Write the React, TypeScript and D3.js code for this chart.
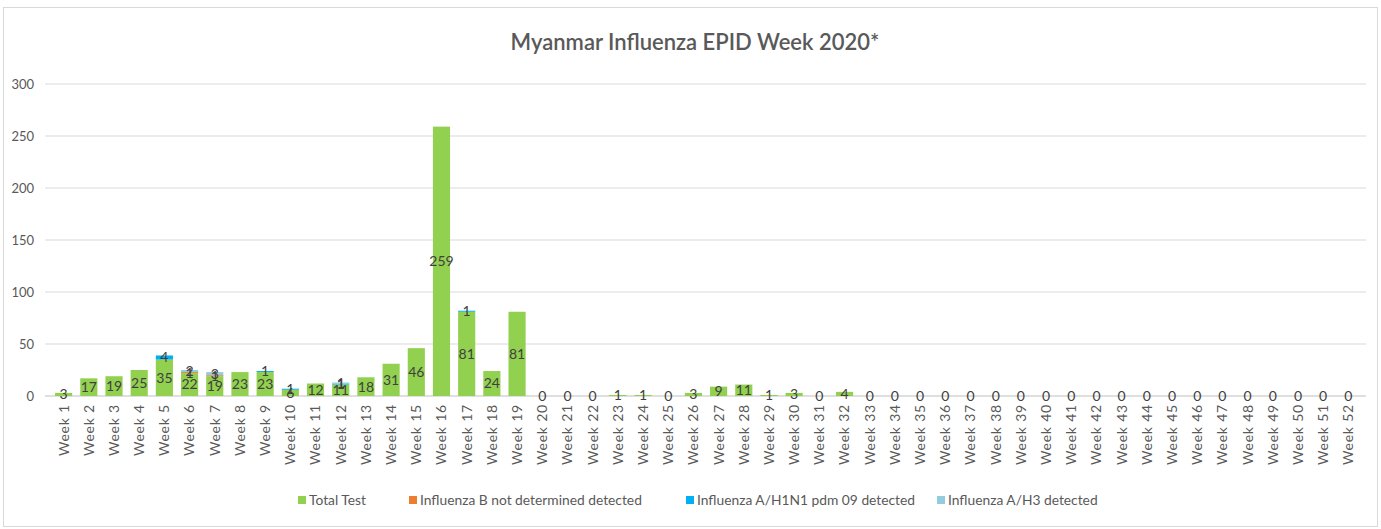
import React from "react";
import * as d3 from "d3";

const weeks = Array.from({ length: 52 }, (_, i) => `Week ${i + 1}`);

const totalTest = [
  3, 17, 19, 25, 35, 22, 19, 23, 23, 6, 12, 11, 18, 31, 46, 259, 81, 24, 81, 0,
  0, 0, 1, 1, 0, 3, 9, 11, 1, 3, 0, 4, 0, 0, 0, 0, 0, 0, 0, 0,
  0, 0, 0, 0, 0, 0, 0, 0, 0, 0, 0, 0,
];
const fluB = [
  0, 0, 0, 0, 0, 1, 1, 0, 0, 0, 0, 0, 0, 0, 0, 0, 0, 0, 0, 0,
  0, 0, 0, 0, 0, 0, 0, 0, 0, 0, 0, 0, 0, 0, 0, 0, 0, 0, 0, 0,
  0, 0, 0, 0, 0, 0, 0, 0, 0, 0, 0, 0,
];
const h1n1 = [
  0, 0, 0, 0, 4, 0, 0, 0, 1, 1, 0, 1, 0, 0, 0, 0, 1, 0, 0, 0,
  0, 0, 0, 0, 0, 0, 0, 0, 0, 0, 0, 0, 0, 0, 0, 0, 0, 0, 0, 0,
  0, 0, 0, 0, 0, 0, 0, 0, 0, 0, 0, 0,
];
const h3 = [
  0, 0, 0, 0, 0, 2, 3, 0, 0, 0, 0, 1, 0, 0, 0, 0, 0, 0, 0, 0,
  0, 0, 0, 0, 0, 0, 0, 0, 0, 0, 0, 0, 0, 0, 0, 0, 0, 0, 0, 0,
  0, 0, 0, 0, 0, 0, 0, 0, 0, 0, 0, 0,
];

const seriesNames = [
  "Total Test",
  "Influenza B not determined detected",
  "Influenza A/H1N1 pdm 09 detected",
  "Influenza A/H3 detected",
];
const colors = ["#92D050", "#ED7D31", "#00B0F0", "#93CDDD"];
const yTicks = [0, 50, 100, 150, 200, 250, 300];

const W = 1381;
const H = 529;
const font = "Lato, 'Open Sans', sans-serif";

export default function App() {
  const keys = ["total", "b", "h1", "h3"];
  const rows = weeks.map((w, i) => ({
    week: w,
    total: totalTest[i],
    b: fluB[i],
    h1: h1n1[i],
    h3: h3[i],
  }));
  const stacked = d3.stack<any>().keys(keys)(rows);

  const x = d3.scaleBand().domain(weeks).range([47, 1365]).padding(0.32);
  const y = d3.scaleLinear().domain([0, 300]).range([396, 84]);

  const legendX = [298, 409, 686, 937];

  return (
    <svg
      width={W}
      height={H}
      style={{ position: "absolute", left: 0, top: 0, background: "#fff" }}
      fontFamily={font}
    >
      <rect x={3.5} y={7.5} width={1374} height={519} fill="#fff" stroke="#d9d9d9" />
      <text
        x={695}
        y={50}
        textAnchor="middle"
        fontSize={22}
        fontWeight={600}
        fill="#595959"
      >
        Myanmar Influenza EPID Week 2020*
      </text>

      {yTicks.map((t) => (
        <g key={t}>
          <line x1={45} x2={1366} y1={y(t)} y2={y(t)} stroke={t === 0 ? "#bfbfbf" : "#d9d9d9"} />
          <text x={34} y={y(t)} dy="0.35em" textAnchor="end" fontSize={13} fill="#595959">
            {t}
          </text>
        </g>
      ))}

      {stacked.map((s, si) => (
        <g key={s.key} fill={colors[si]}>
          {s.map((d, i) => (
            <rect
              key={i}
              x={x(weeks[i])}
              width={x.bandwidth()}
              y={y(d[1])}
              height={y(d[0]) - y(d[1])}
            />
          ))}
        </g>
      ))}

      {stacked.map((s, si) => (
        <g key={s.key + "l"} fontSize={14} fill="#404040" textAnchor="middle">
          {s.map((d, i) => {
            const v = d[1] - d[0];
            if (si > 0 && v === 0) return null;
            return (
              <text
                key={i}
                x={(x(weeks[i]) as number) + x.bandwidth() / 2}
                y={y((d[0] + d[1]) / 2)}
                dy="0.35em"
              >
                {v}
              </text>
            );
          })}
        </g>
      ))}

      {weeks.map((w) => {
        const cx = (x(w) as number) + x.bandwidth() / 2;
        return (
          <text
            key={w}
            transform={`translate(${cx},${404}) rotate(-90)`}
            textAnchor="end"
            dy="0.35em"
            fontSize={14}
            letterSpacing={0.8}
            fill="#595959"
          >
            {w}
          </text>
        );
      })}

      {seriesNames.map((n, i) => (
        <g key={n} transform={`translate(${legendX[i]},${496})`}>
          <rect width={8} height={8} fill={colors[i]} />
          <text x={11} y={4} dy="0.35em" fontSize={13.8} fill="#595959">
            {n}
          </text>
        </g>
      ))}
    </svg>
  );
}
